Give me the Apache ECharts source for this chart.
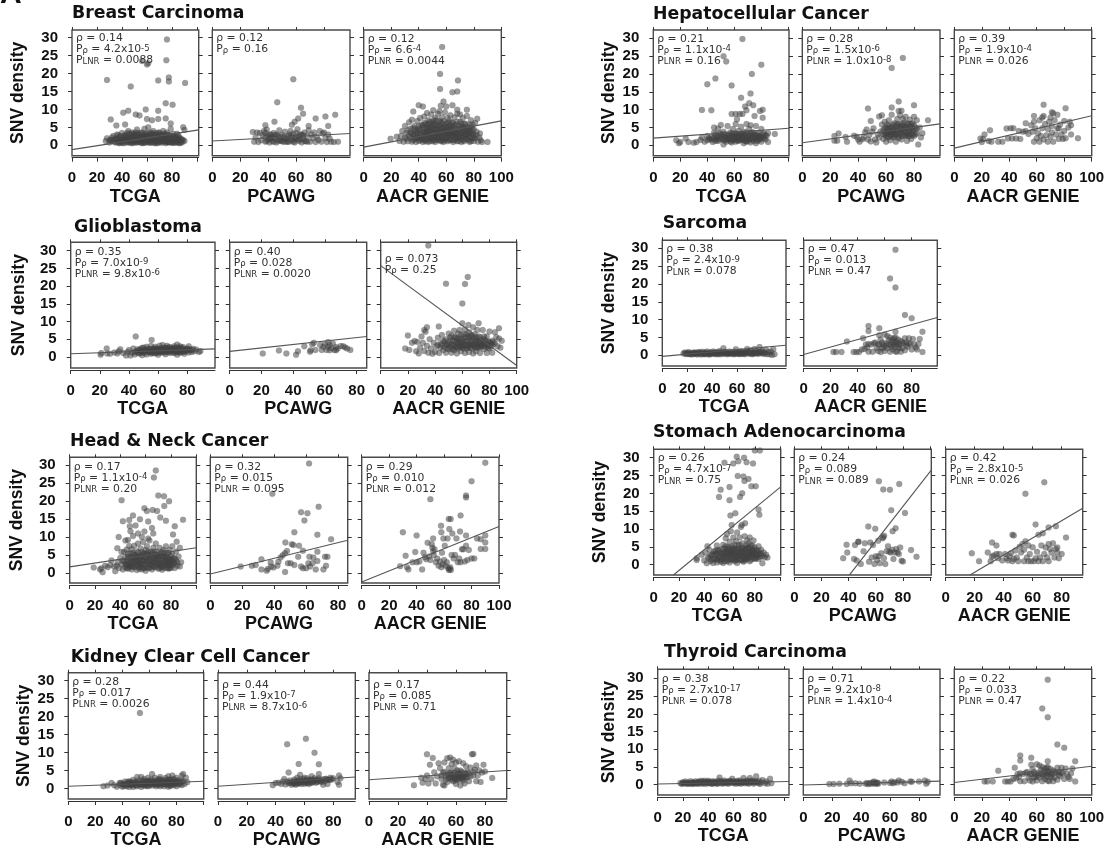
<!DOCTYPE html>
<html><head><meta charset="utf-8">
<style>html,body{margin:0;padding:0;background:#fff}#c{width:1111px;height:850px}</style>
<script src="https://cdn.jsdelivr.net/npm/echarts@6/dist/echarts.min.js"></script>
</head><body><div id="c"></div>
<script>
// Every array: x (age), y (SNV density) pairs
const brcaTcga=[76,29.5,75.5,23.7,61,22.9,56,23.5,60,22.5,28,18.2,47,16.4,69,18.1,77.5,18.9,77.5,17.8,90.5,17.4,75,11.7,80.5,11.3,69,9.6,59,10,41,9.1,45,9.6,51,8.6,54,8.3,31,7.2,35.5,5.5,60,7.3,64,7,69,7.3,75,7.5,79,6.1,42.5,5.8,
27,1.2,28,2,30,.8,31,1.5,33,2.6,34,.9,35,1.8,36,3,37,.7,38,2.2,39,1.2,40,3.4,41,.6,42,1.6,43,2.7,44,.8,45,4,46,1.3,47,2.3,48,.6,49,3.2,50,1.6,51,.8,52,4.4,53,2.4,54,1,55,3.4,56,.6,57,1.8,58,4.6,59,2.8,60,1.1,61,5,62,3.3,63,.7,64,2,65,4,66,1.2,67,2.8,68,.6,69,3.5,70,1.7,71,.9,72,2.6,73,4,74,1.2,75,.6,76,3,77,2,78,.9,79,4.6,80,1.5,81,2.6,82,.7,83,1.8,84,3.2,85,1,86,2.2,87,.8,88,1.6,89,5,90,1.2,90,4.3,
32,1.2,36,1.1,38,.6,40,1.8,42,2.8,44,1.9,46,.7,48,2.2,50,3,52,1.1,54,2.3,56,1.6,58,.8,60,2.4,62,1.4,64,3.2,66,.6,68,2,70,3,72,1.2,74,2.4,76,1,78,2.8,80,.7,82,2.2,84,1.2,86,.6,41,1.4,45,2,49,1,53,1.5,57,2.8,61,.9,65,1.9,69,1.1,73,1.8,77,.8,81,1.2,85,1.8,
30,1.4,32,2.2,34,1.6,35,.8,36,1.9,37,2.8,38,1.4,39,.8,39,2.6,40,1,41,2.2,42,.7,43,1.4,44,2.6,44,3.4,45,1,46,2,46,3.2,47,.9,47,1.6,48,2.8,48,3.6,49,.7,49,2,50,1.2,50,2.4,51,3.6,51,1.7,52,.8,52,2.8,53,1,53,3.3,54,1.7,54,2.9,55,.8,55,2.2,56,1.2,56,3.6,57,.7,57,2.3,58,1.4,58,3.2,59,.7,59,2.2,60,1.7,60,3.4,61,1.2,61,2.8,62,.7,62,2,63,1.3,63,3.6,64,.9,64,2.6,65,1.4,65,3,66,.8,66,2.2,67,1.6,67,3.4,68,1,68,2.8,69,.7,69,2.2,70,1.2,70,3.6,71,2,71,2.8,72,.7,72,1.8,73,1.1,73,3,74,1.8,74,3.2,75,1,75,2.4,76,1.6,76,3.6,77,1,77,2.8,78,1.6,79,.8,79,2.4,80,1.8,81,.8,81,3.2,82,1.4,83,.8,83,2.6,84,1.7,85,.7,85,2.8,86,1.4,87,1.8,88,.8,89,1.4];
const brcaPcawg=[58,18.4,46.5,12,63.5,10.5,65,8.8,44.5,6.6,61.5,7.5,74,7.5,81,8,88,8.5,83,5.4,38,5.6,57,5.7,59,6.6,69,5.4,
29,3.7,30,1,31,2.2,32,3.6,33,.9,34,3.4,35,1.4,36,2.8,37,4,38,1,38,2.4,39,4.4,40,1.6,41,.8,41,3,42,2,43,1.2,44,3.4,45,1.8,46,.8,47,2.6,48,4.2,49,1.2,50,2.9,51,.9,52,3.8,53,1.7,54,2.5,55,1,56,4,57,1.4,58,3.2,59,.8,60,2.2,61,4.5,62,1.2,63,3,64,.8,65,1.9,66,3.6,67,1.1,68,2.6,69,4.2,70,1,71,3,72,2,73,3.6,74,.9,75,2.4,76,1.5,77,4,78,1,79,3.3,80,3.6,81,2,82,.9,83,3,84,1.9,85,1,87,.9,90,1,
40,2.6,44,.9,46,3,48,1.5,50,1.2,52,2,54,1,56,2.6,58,1,60,3.4,62,2.6,64,3,66,1.2,68,1,43,2.2,47,1.3,51,2.2,55,3,59,1.8,63,1.7,39,1.2,41,1.9,42,3,45,2.8,49,2.4,53,1,57,2.2,61,1.6,65,2.8,38,3.4];
const brcaAacr=[57,27.4,55.5,19.9,68.5,18.1,55.5,15.7,68,15,64.5,14.8,58,12.2,40,11.2,43,10.8,36,9.4,64.5,11.2,68,9.9,75,9.9,82.5,7.4,19.5,1.8,24,2.4,90,.9,86,.9,84.5,3.3,56,11,50.5,9.8,60,10.8,46,9,55,9.5,70,8.6,
26,1.2,27,2.6,28,4,29,1,30,5.4,30,2.2,31,3.4,32,1.1,33,6.4,33,2.7,34,4.6,35,1,35,7.1,36,3,37,1.8,37,5.4,38,3.8,38,.9,39,6.8,39,2.2,40,4.6,40,1.2,41,7.6,41,3.2,42,1.9,42,5.6,43,.9,43,3.9,44,8,44,2.5,45,6,45,1.1,46,4.3,46,2.9,47,7,47,.9,48,5,48,1.9,49,3.4,49,8.6,50,6.4,50,1.1,51,2.6,51,4.5,52,7.6,52,.9,53,3.4,53,5.6,54,1.8,54,8.8,55,4.2,55,6.8,56,1.1,56,2.8,57,7.8,57,5,58,3.6,58,.9,59,9.2,59,2,60,6,60,4.2,61,1.1,61,7.6,62,2.9,62,5.2,63,8.4,63,1.6,64,3.8,64,6.4,65,.9,65,4.9,66,2.4,66,7.8,67,3.4,67,5.8,68,1.1,68,8.8,69,4.2,69,2.2,70,6.6,70,3.2,71,.9,71,5,72,7.6,72,2.4,73,4,73,1.1,74,6,74,3,75,8.2,75,1.8,76,4.6,76,2.6,77,5.8,77,.9,78,3.4,78,7,79,2,79,4.6,80,1.2,80,3,81,6.2,81,2,82,3.8,83,1,84,2.2,85,1.4,
35,3.2,37,4.4,39,4,41,2.4,43,5.6,45,3.4,47,4.8,49,1.9,51,6,53,2.2,55,3,57,2,59,4,61,3.2,63,4.6,65,2.8,67,1.8,69,5.4,71,3.4,73,6,75,4,77,3.2,79,5.8,
31,1.8,32,4.2,34,2,34,3.4,36,1.4,36,4.8,37,2.8,38,2,39,3.2,40,2,40,5.4,41,1.4,41,4.4,42,3,43,1.8,43,4.8,44,1.4,44,3.4,44,6.2,45,2.4,45,4.6,46,1.6,46,3.6,46,5.4,47,2.6,47,4,47,6,48,1.2,48,3.2,48,6.6,49,2.4,49,4.4,49,5.6,50,1.8,50,3.6,50,5,51,1.4,51,3.4,51,7,52,2.6,52,4.4,52,5.8,53,1.4,53,4.4,53,7,54,2.8,54,3.8,54,5.2,55,1.4,55,2.2,55,5.6,56,3.6,56,4.8,56,6.4,57,1.3,57,3.8,57,6.2,58,2.4,58,4.8,58,6.8,59,1.4,59,3,59,5.4,60,2,60,3.4,60,5,61,2.2,61,4.4,61,6.2,62,1.4,62,3.8,62,6.8,63,2.6,63,3.4,63,5.6,64,1.4,64,2.8,64,5,65,3.6,65,6.2,66,1.4,66,3.4,66,5.4,67,2.6,67,4.6,68,2,68,3.6,68,6.6,69,1.2,69,3.2,70,2,70,4.6,71,2.4,71,6,72,1.4,72,3.6,72,5,73,2.8,73,4.8,74,1.8,74,4.4,75,3,75,5.2,76,1.4,76,3.6,77,2.2,77,4.2,78,1.2,78,5,79,3.2,80,2.2,80,4.4,82,2.8];
const gbmTcga=[44.6,5.8,55.5,4.8,24.7,2.4,20.5,.6,21,1.1,25,1,27,.9,30,1.3,32,1,33,1.6,34,2.2,36,1.1,38,.4,39,1.4,40,2,41,.4,42,1.2,43,2.4,44,.7,45,1.6,46,2.2,47,1,48,1.7,49,.5,49,2.6,50,1.3,51,2,52,.7,52,2.9,53,1.5,54,2.2,55,.9,55,3.1,56,1.7,57,2.4,58,1,58,2.9,59,1.6,60,.6,60,2.2,61,3.2,62,1.3,62,2.4,63,3.4,64,1.8,65,.8,65,2.6,66,1.5,66,3.2,67,2.1,68,1.1,68,2.8,69,1.7,70,2.5,71,1.1,71,3,72,2,73,.6,73,3.5,74,1.5,74,2.6,75,1.1,75,3,76,2,77,1.4,77,2.8,78,.9,78,2.2,79,1.6,80,2.4,81,1.3,81,3,82,2,83,1.4,84,2.3,85,1.6,86,2.1,88,1.4,89,1.7,48,1.2,50,2.6,54,1.4,56,1.1,60,1.5,64,2.6,68,2,72,1.4,76,1.5,
44,1.4,46,1.2,47,2,48,2.2,49,1.4,50,1.8,51,1.2,52,1.9,53,2.3,54,1.8,55,1.4,56,2.3,57,1.3,57,1.9,58,2.2,59,1.2,59,2.4,60,1.9,61,1.3,61,2.3,62,1.8,63,1.4,63,2.2,64,1.3,65,2.1,65,1.6,66,2.3,67,1.4,67,2.7,68,1.6,69,2.4,70,1.3,70,2,71,2.4,72,1.7,72,2.6,73,1.4,73,2.2,74,2,75,1.6,75,2.4,76,2.6,77,1.9,78,1.6,79,2.2,80,1.8,81,2.2,83,2];
const gbmPcawg=[20.8,1,31,1.8,35.7,1,41.8,.6,43,1.6,47,3,50.6,1.5,52,3.6,53,4,62,4.2,70,3.1,72.7,2.7,76,2,74,2.4,71.5,3,51,1.9,54,2,57,3.4,58,2,59,2.9,60,3.6,61,2,62,2.8,63,1.9,63,3.4,64,2.5,65,3.8,66,2,67,2.8,67,1.9,68,2.4];
const gbmAacr=[35,31.5,48,20.7,64,22.6,62,20.6,60,15.1,20,6.1,42.7,8.6,34,8.4,32,7.6,72,9.5,64.5,9,60,9.5,87,8.1,18,2.4,21,2,23,4,25,4.5,26,1.6,27,4.2,28,1,29,2.6,30,5.8,31,4,32,1.7,33,7.1,34,3.2,35,1.2,36,5,37,2.4,38,.9,39,4,40,1.4,41,3,42,5.4,43,1.1,44,3.8,45,6.2,46,2,47,4.4,48,1.2,49,3.4,50,6.6,50,2.2,51,4.6,52,1.2,52,6,53,3.2,54,7.4,54,1.9,55,4.4,55,5.6,56,1,56,2.8,57,6.6,57,4,58,3.2,58,7.6,59,1.6,59,5.2,60,4,60,2.6,61,6.4,61,3.2,62,1.1,62,7.8,63,4.6,63,2.4,64,5.8,64,3.2,65,1.4,65,7,66,4.2,66,2.6,67,6,67,3.4,68,1,68,8.4,69,4.6,69,2.8,70,5.6,70,1.6,71,3.6,71,7.6,72,4.4,72,2.6,73,1.1,73,5.6,74,3.4,75,7.6,75,4.2,76,2.2,76,5,77,3.6,78,1.1,78,5.8,79,3.2,79,4.4,80,2.4,80,7.2,81,3.8,82,1.2,82,4.6,84,7,84,3.8,85,5.6,86,3,87,5.2,88,2.6,89,4.6,
42,3.4,44,2.6,45,3.4,46,4.6,47,2.8,48,3.6,48,5,49,2.4,50,3.8,51,2.8,51,5.4,52,3.6,53,4.6,53,2.2,54,3.4,54,5.6,55,2.6,56,3.8,56,5,57,2.4,57,5.2,58,4.4,58,2.8,59,3.6,59,6.2,60,5,60,3.2,61,2.4,61,4.4,62,3.6,62,5.6,63,3.2,63,6.4,64,2.6,64,4.4,65,3.6,65,5.4,66,3.4,66,6,67,2.4,67,4.6,68,3.6,68,5.4,69,3.4,69,6.4,70,2.6,70,4.4,71,5,71,2.8,72,3.4,72,5.8,73,4,73,2.8,74,4.8,74,3,75,3.2,76,3.8,76,5.8,77,2.8,77,4.6,78,3.6,79,2.6,80,4.2,81,3,82,3.4,83,4.2];
const hnTcga=[68,28.5,66.5,26.5,41,20.2,70,21.5,74.5,21.3,78.5,19.9,74.7,18.6,59,18,61,17.2,65.5,17.5,69,17.2,50,16,42,14.4,47,14.7,55.5,14.9,62,14.3,71.5,15.4,76,14.5,89.5,14.8,83,13,38.7,10,37.6,6.9,81.6,10.7,84.5,8.7,47.5,13,52,13.2,65,12.5,59,11.5,48,11.6,50,10.3,54,11,57,10,62,9.6,66,11,46,9.2,44,9,41,5.8,
19,1.5,24,1,25,1.3,26,.2,28,2,30,1.6,32,2.2,33,3.5,35,1.8,36,.5,37,2,38,3,39,1.4,40,4.2,41,2.4,42,1,43,5.8,43,3.2,44,1.6,45,6.5,45,2.6,46,4.6,46,1.2,47,7.5,47,3.2,48,2,48,5.4,49,1,49,6.6,50,3.6,50,1.8,51,5,51,7.6,52,2.6,52,4,53,.8,53,6,54,3,54,8.2,55,1.6,55,4.6,56,6.8,56,2.6,57,3.6,57,1,58,5.4,58,8.6,59,2.2,59,4.4,60,.6,60,6.4,61,3.2,61,7.4,62,1.4,62,5,63,3.6,63,9,64,2.4,64,6,65,4.4,65,1,66,7,66,3,67,5.2,67,1.8,68,8.2,68,3.8,69,2.4,69,6,70,1.2,70,4.6,71,7,71,3,72,1.8,72,5.4,73,3.8,73,.9,74,6.4,74,2.6,75,4.6,75,1.4,76,7.4,76,3.4,77,2.2,77,5.4,78,1.2,78,4,79,6.4,79,2.8,80,3.6,80,1.4,81,5.2,81,7.4,82,2.6,83,4,83,1.4,84,6,85,3,85,2,86,4.6,87,7,87,1.8,88,3,47,2.2,51,3.2,53,4.6,55,2.8,57,5,59,3.4,61,5.4,63,2.2,65,3,67,3.6,69,4.6,71,2.2,73,4.8,75,3,77,4,79,2,81,3.4,
42,3.4,44,2.4,44,4.4,45,1.4,45,3.6,46,2.2,46,5.4,47,1.6,47,4.2,48,2.8,48,3.8,49,1.8,49,4.6,50,2.6,50,5.6,51,1.6,51,4,52,3.2,52,5,53,1.8,53,3.6,54,2.2,54,4.4,54,5.6,55,3.4,55,1.2,56,4.4,56,1.8,57,2.6,57,5.8,58,1.4,58,3.4,59,1.4,59,5.4,60,2.6,60,4.2,61,1.6,61,4.4,62,3,62,6,63,1.4,63,4.6,64,3.4,64,5,65,2,65,5.6,66,1.6,66,4.2,67,2.8,67,6,68,1.6,68,4.8,69,3.2,69,5,70,2.4,70,3.6,71,1.4,71,5.2,72,3.6,72,2.6,73,1.6,73,5.8,74,3.6,74,4.6,75,2,75,5.6,76,2.4,76,4.6,77,1.4,77,3.2,78,2.8,78,5.6,79,3.8,79,1.4,80,2.6,80,4.8,81,2.2,82,4,83,2.8,84,3.6];
const hnPcawg=[61.8,30.4,38.8,22,67.8,18.4,56.8,16.9,60.8,16.6,58.9,14.6,52.6,11.3,67,10.6,75.6,9.4,47,8.5,51,8,52,7.8,55.5,7.6,58,6.2,67,5.9,48,6.1,46.7,5.5,19,1.8,26,2,28.4,2.2,32,3.8,32,1,35.3,.6,36,1.1,38,1.8,37.8,2.9,39.5,1.5,42,2,42.6,3.1,44,4.3,45.3,4.9,46.8,.3,48.6,2.7,50.3,2.7,52.6,2.2,55,4.5,56.8,1.8,58,1.3,60,1.3,62.4,1.8,62,4.5,64.5,4.3,61.4,2.7,66,1,67,3.3,70.8,1,71.8,4.5,73.3,4.5,72.4,2,64,2.7];
const hnAacr=[90,30.6,80,25.5,76,21.5,76,21,50,20.5,72,16,63.4,15,64.8,15,57.8,13.1,30,11.3,40,10.4,90,10.4,90,8.5,90,6.7,86.7,6.7,86.7,9.4,76,10.4,76,7.6,71.6,11.5,63.8,12.2,58,11.3,59.5,9.6,52,9.6,28,1.9,32,4.8,33,1.6,34,1,37,3,39,5.8,40,3,42,3.2,44,1,45,5.6,46,4.4,47,3.8,48,8.4,49,4.6,50,3.6,51,8,51.5,7,52,6,52.5,5,53,6.6,54,3,55,4,56,2,57,3.2,58,1.6,58.5,5.6,59,2.4,60,3.6,60.5,7.6,61,2,62,3,62.5,9.6,63,1.4,63.5,.8,64,1.1,64.5,1.6,65,.8,65.5,5,66,11,67,4,68,5,69,9.6,70,3,71,4,72,3,73,6.6,74,6.6,75,3.2,77,3.6,78,6.4,80,4,82,4,84,9.6];
const kiTcga=[53,21,26,.6,29,.8,32,1.5,34,.9,36,.5,38,1,39,1.6,40,.5,41,1.1,42,1.9,43,.6,44,1.3,45,.4,45,2,46,1,47,1.6,48,.4,48,2.4,49,1,50,1.8,51,3.2,51,.6,52,2.2,53,1.1,54,3.2,54,.4,55,1.7,56,2.6,57,.7,57,1.3,58,2,59,3,59,.6,60,1.3,61,2.5,62,.8,62,4,63,1.7,64,3,65,.6,65,1.9,66,1.1,67,2.6,68,.6,68,3.2,69,1.6,70,2.3,71,.6,71,1.2,72,2.9,73,1.7,74,.5,74,3.4,75,1.4,75,2.4,76,.7,77,3.6,77,1.8,78,1,78,2.6,79,1.6,80,.6,80,3,81,1.7,82,1.1,83,2.3,84,3.6,84,.9,85,4,85,2,86,1.2,87,3,88,1.7,46,1.8,50,.9,55,.9,60,2,64,1,70,1.2,75,.8,79,2.2,
38,1.5,40,1.2,41,.7,42,1.3,43,1.1,44,1.8,45,1,46,1.4,47,.9,48,1.2,49,1.7,50,1.3,51,1.6,52,1,53,1.6,54,1.2,55,2.2,56,1,56,1.6,57,2,58,.9,58,1.4,59,1.9,60,.8,61,1.4,61,2,62,1.2,63,2.2,64,1.6,65,1.2,66,2.2,66,1.6,67,1,67,1.8,68,1.4,68,2.4,69,1,70,1.7,71,2,72,1.2,72,2.2,73,1.1,74,1.8,74,2.4,75,1.1,76,1.6,76,2.4,77,1.2,78,1.8,79,1.1,80,1.5,81,2.2,82,1.6,83,1.3,84,1.9];
const kiPcawg=[61,13.8,48,12.3,67,9.9,56,6.8,70,6.7,49,4.4,70,4,46,2.6,38,.9,40,1.5,42,1.6,44,1.2,45,1.9,47,1.1,48,1.9,49,1.5,50,2.2,51,1,52,1.8,53,2.5,53,1.3,54,1,55,2,55,3,56,1.4,57,2.5,57,3.8,58,1.2,59,2,60,3,60,1.3,61,2.2,62,1.6,62,2.8,63,1.2,64,2.4,65,3.4,65,1.6,66,2.2,67,2.8,68,1.6,69,2.3,70,2.8,71,2,72,2.5,73,1,74,2,75,2.7,76,1.2,77,2.4,78,3,79,2.5,80,2.8,84,3.6,83,1.8,84,1,85,2.8,
50,1.6,52,1.4,53,2,54,1.6,55,1.4,56,2.1,57,1.6,58,1.8,59,2.6,60,1.8,61,1.5,62,2.2,63,2,64,1.6,65,2.4,66,1.7,67,2,68,2.4,69,1.8,70,2.2,72,1.8,74,2.6,76,2.4,78,2.4];
const kiAacr=[31,.9,36,3,37,1.6,39,2.6,40,9.5,40,3.6,41,1.4,42,6.6,43,2.6,44,8.5,45,4.5,46,1.4,47,3.4,48,7,49,5.6,50,2.6,51,1,51,4.4,52,7.2,52,.8,53,3.4,54,8.4,54,1.8,55,5.6,56,3,56,8.6,57,4.2,57,6.8,58,2,58,8,59,3.4,59,5.6,60,1.2,60,7.2,61,4,61,2.6,62,7.6,62,3.4,63,5,63,.8,64,3.4,65,7,65,2.2,66,4.4,66,1.4,67,6.2,67,3,68,4.6,69,2,70,5.8,71,9.5,72,3.6,72,9.6,73,5.2,74,2,74,6.4,75,3.6,76,5,77,1.8,78,4.4,79,6.6,80,4.7,85,2.9,55,4,57,3.2,59,2.6,61,3.2,63,4,65,3.6,
50,3.6,52,4.6,53,2.4,54,3.8,55,2.8,56,4.4,57,2.4,58,3.8,59,4.4,60,3,60,2.2,61,5,62,2.4,62,4.2,63,3,64,2.6,64,4.6,65,3,66,3.4,67,4,68,3.2,69,4.2,70,3.4,72,4.6];
const hccTcga=[66,29.8,52,25,54,23.5,80,22.6,73,20,46,18.7,40,17.1,58,16.8,72,14.5,65,13.3,71,11.8,74,11.2,68,10.9,36,9.9,43,9.8,79,9.6,81,10,69,9.8,75,8.2,81,7.7,58,8.8,61,8.8,64,8.8,66,8.8,62,7.3,17,1.4,19,.6,20,.9,24,1.9,26,.9,30,.7,32,.9,35,1.5,36,2.2,38,1,40,2.6,42,1.6,44,.9,45,3.5,45,5,47,2.2,48,4.7,48,1.2,50,3,50,5.7,51,1.7,52,.2,52,3.8,53,2.4,54,1,55,5.4,55,2.8,56,1.6,57,3.6,58,.8,58,2.4,59,4.6,60,1.6,60,3,61,1,61,6,62,2.4,63,4,63,1.2,64,3,65,5.2,65,1.6,66,2.4,67,.6,67,3.8,68,2,69,6,69,1,70,2.9,71,4.6,71,1.7,72,.8,72,5.6,73,2.6,74,3.6,74,1.2,75,2,76,5.4,76,.6,77,3,78,1.6,79,2.6,80,4.6,80,1,81,2.2,82,3.4,83,1.6,84,2.6,85,.9,85,3.4,90,3.2,57,1.7,59,3.2,61,2.2,63,2.6,66,1.6,68,3.2,70,1.7,73,1.6,77,2,
40,1.4,41,2,43,2.2,44,1.6,45,2.2,46,1.2,46,3,47,1.6,48,2.6,49,1.6,49,3.4,50,2.2,51,3,52,1.6,53,1.4,53,3.2,54,2.2,55,1.6,56,3,56,2.2,57,1.1,58,3.2,59,1.4,60,2.2,61,3.4,62,1.4,62,3.2,63,2,64,1.4,64,2.2,65,3,66,3.4,67,1.6,67,2.6,68,1.2,69,2.2,69,3.6,70,1.2,71,2.6,72,2,72,3.4,73,3.6,74,2.2,75,3,76,1.6,76,2.6,77,1.2,78,2.4,78,3.4,79,1.6,80,2.2,81,3,82,2,83,2.8];
const hccPcawg=[72,24.5,64,21.7,69,12.3,47,10.3,64,10.6,69,9.6,71,9.7,80,11.2,23,2.6,23,1.3,25,1.3,26,3.3,31,2.3,32,1,37,2.7,39,2.4,40,1.6,41,1,43,1.7,44,2.2,45,3.6,46,4.4,47,1.6,48,2.9,49,6.8,49,1.1,50,3.8,51,4.8,52,1.6,53,.8,54,3,55,8.1,55,2.2,56,3.9,57,8.4,57,5.8,58,1.8,58,3.2,59,4.8,59,6.6,60,1,60,3.4,61,5.8,61,2.2,62,4,62,7,63,3,63,1.4,64,5.2,64,8.6,65,3.8,65,2.2,66,6.2,66,4.4,67,1,67,3,68,7.4,68,4.8,69,5.8,69,2.4,70,3.6,70,8.4,71,6,71,1.6,72,4.4,72,7.4,73,2.8,73,5.2,74,8,74,3.6,75,1.2,75,6.2,76,4.4,76,2.6,77,7.2,77,5.4,78,3.2,78,1.8,79,6.2,79,4,80,8,80,2.6,81,5,82,3.4,82,7,83,.2,84,5,85,2.2,86,3.4,90,7,
58,4.2,59,3,60,2.6,60,5,61,3.6,61,4.6,62,2.4,62,5.4,63,3.8,63,4.8,64,2.8,64,3.6,65,4.6,65,5.8,66,3,66,2.4,67,4,67,5.4,68,3.2,68,6,69,2,69,4.2,70,3,70,5.2,71,3.6,71,4.6,72,2.6,72,5.6,73,3.8,73,6.4,74,2.6,74,4.8,75,3,75,5,76,3.4,76,6,77,2.6,77,4.2,78,4.8,78,6,79,3,80,4.4,80,5.6,81,3,82,4.6];
const hccAacr=[65,11.4,81,10.4,71,9.3,72,9,58,8.2,64,7.8,65,8.2,70,7.8,75,8.6,84,6.6,85,5.6,19,1.9,20,.9,21,1.8,22,3,25,1.2,26,4.2,27,1,32,1,35,1,38,4.7,39,1.9,41,4.8,42,1.9,43,4.8,45,1.9,47,4,48,1.8,50,3.8,52,6.2,52,4,54,3.2,56,5.6,57,3.8,58,1,58,6.6,59,4.8,60,2,61,3.4,62,1,62,7,63,2.6,64,4.8,65,1.6,66,6,67,2.8,68,1,68,4.6,69,6.6,70,2.4,71,5.4,71,3.6,72,1,73,7,74,3,75,4.8,76,1.8,76,4.7,77,5.8,78,3,79,1.8,80,6.8,80,4,81,2,83,5,85,3,90,2];
const sarcTcga=[17,.5,18,.8,19,.3,20,.6,21,.9,22,.3,23,.6,24,.2,25,.8,26,.4,27,.7,28,.2,29,.9,30,.5,31,.2,32,1,33,.5,34,.8,35,.3,36,1.1,37,.6,38,.2,39,.9,40,.4,41,1.1,42,.7,43,.3,44,.9,45,.5,46,1.2,47,.3,48,.8,49,2,50,.5,51,1,52,.3,53,.7,54,1.1,55,.4,56,.8,57,.3,58,1,59,1.7,60,.5,61,.9,62,.3,63,1.2,64,.6,65,.9,66,.3,67,1,68,1.8,69,.5,70,.9,71,1.4,72,.3,73,.8,74,1.8,75,1.2,76,.5,77,1,78,2.3,79,.6,80,1.2,81,.4,82,.8,83,1.6,84,.3,85,.9,86,.3,87,1.1,88,.1,89,1.7,90,.3,22,.5,26,.7,30,.8,34,.4,38,.6,42,.4,46,.7,50,.9,54,.6,58,.4,62,.8,66,.7,70,.5,74,.6,78,.8,82,.5,
19,.6,21,.4,23,.4,25,.5,27,.4,29,.5,31,.6,33,.3,35,.7,37,.3,39,.5,41,.6,43,.7,45,.3,47,.7,49,.4,51,.6,53,.4,55,.7,57,.6,59,.4,61,.5,63,.4,65,.4,67,.6,69,.9,71,.6,73,.4,75,.6,77,.4,79,1];
const thyPcawg=[18,.2,21,.2,25,.3,30,.2,32,1.2,33,.4,36,.4,39,.3,43,.3,44,.5,45,.1,46,.5,47,.3,48,.7,49,.3,49,.9,50,.5,51,.2,52,.4,56,.6,60,.5,61,.9,62,.4,63,.7,65,.6,66,1.2,68,.8,70,.4,74,.9,75,.8,80,.9,84,1.2,85,.3,86,.8,51,.6];
const thyTcga=[18,.5,19,.2,20,.7,21,.4,22,.9,23,.2,24,.6,25,.3,26,1,27,.2,28,.6,29,.3,30,1,31,.5,32,.2,33,.7,34,1.1,35,.3,36,.6,37,1.1,38,.2,39,.7,40,1.1,41,.4,42,.8,43,.2,44,1,45,.5,46,.8,47,.2,48,.6,49,2,50,1,51,.3,52,.7,53,1.2,54,.4,55,.8,56,.3,57,1.1,58,.6,59,1.7,60,.4,61,.8,62,.3,63,1.1,64,.6,65,1.2,66,.3,67,.7,68,1.9,69,.4,70,.9,71,1.2,72,.3,73,1.9,74,.7,75,1.2,76,.3,77,.9,78,2.4,79,.6,80,1.1,81,.2,82,.7,83,1.3,85,.4,86,.9,87,.3,89,1.7,90,.4,28,.4,32,.8,36,.9,40,.5,44,.4,48,1.1,52,.4,56,.8,60,.9,64,.4,68,.6,72,.8,76,.8,80,.5,
20,.4,22,.5,24,.4,26,.5,28,.6,30,.4,32,.5,34,.6,36,.4,38,.6,40,.8,42,.4,44,.7,46,.5,48,.4,50,.6,52,.8,54,.7,56,.5,58,.9,60,.6,62,.7,64,.8,66,.6,68,.9,70,.6,72,.5,74,1,76,.6,78,.8];
const sharedAacr=[68,29.6,64,21.5,68,19,75,11.3,80,10.4,48,8.2,48,6.8,56,7.6,68,6.6,88,6.6,22,.9,24,.9,28,.9,32,3.9,37,.9,39,.9,41,.9,43,1.6,44,4.8,45,1.8,46,3,47,2.2,48,3.2,48,1,50,3,51,1,52,3.4,53,3.6,54,2,55,1.2,56,5.6,56,3,57,.9,57,4.4,58,2,59,3,60,5.8,60,1.2,61,3.4,62,2,62,5.4,63,3,64,1,64,5,65,2.4,65,3.8,66,1.6,67,4.8,67,3.2,68,1.1,68,5,69,3.6,69,1,70,2.4,70,4.4,71,3,72,1,72,4,73,2,74,3.4,75,4.8,75,1.4,76,3.6,77,2.4,78,4.8,79,3.2,80,1.6,81,4.6,82,3,83,2.2,84,1.6,85,3.2,86,4.6,88,.9,66,4.4,68,3.8,58,3.6,55,3,59,2.2,61,2.6,63,4.2,65,3,67,2.4,69,3,71,2,73,3.6,76,2.8,78,3.4];
const stadTcga=[80,32,84,32,56,28.6,63,28.4,65.7,30.3,71.5,30,67,29,73.5,28.7,78.6,28.4,66.5,24.9,71,24.7,71.8,23.5,75,24,77.3,22,80.7,22,60,21.8,53,21,51.7,19,68.3,19,70,20,60,18.1,83,15.5,83.6,14,60.7,13.8,64.6,14.4,61.7,11.1,69.7,11.1,72.3,11.6,86,.4,34,1.3,42.5,5.2,34,1.8,38,2.8,40,1.2,41,3.4,42,.4,43,2,44,4.2,45,1,46,2.8,47,.5,48,3.8,49,1.6,50,5.4,50,.6,51,2.6,52,4,53,1.2,54,3,55,.5,55,5.6,56,2,57,7.4,57,3.6,58,1,58,8.6,59,5,59,2.6,60,.6,60,6.4,61,3.6,61,9.4,62,1.6,62,5.2,63,3,63,7.6,64,1,64,4.4,65,6.6,65,2.2,66,.5,66,9,67,3.6,67,5.4,68,1.4,68,7.6,69,4,69,10.6,70,2.4,70,6,71,.8,71,4.4,72,8,72,3,73,1.6,73,5.4,74,6.8,74,3.4,75,2,75,4.6,76,7.6,76,1,77,3.6,77,5.4,78,2.2,78,4.2,79,3,79,6.8,80,1.6,80,4.8,81,2.8,82,3.8,83,5.2,83,1.6,84,3,85,4.2,86,2.4,87,3.4,88,2,89,2.8,90,2,56,3,58,4.4,60,3.2,62,3.6,64,2.6,66,2.6,68,3.2,70,3.8,72,2,74,2.4,76,3.6,78,3,82,2.2,
44,1.8,45,2.6,46,1.4,47,3,48,1.6,49,2.8,49,4,50,1.4,50,3.2,51,1.6,51,4.2,52,2.2,53,3.2,53,.8,54,1.6,54,4.4,55,2.4,55,3.4,56,1,56,4.6,57,1.8,57,5.2,58,2.8,58,3.4,59,1.4,59,4,60,2.2,60,4.6,61,1.4,61,2.8,62,3,62,4.2,63,1.4,63,4.6,64,3.4,64,5.6,65,1.4,65,3.8,66,4.2,66,1.4,67,2.4,67,4.6,68,2.4,68,5.6,69,1.4,69,3,70,1.2,70,4.6,71,2.2,71,3.4,72,1.2,72,4.6,73,2.8,73,4.2,74,1.6,74,4.8,75,3.2,75,6,76,2.4,76,4.6,77,1.4,77,2.8,78,3.6,78,5.4,79,1.8,79,4,80,3,81,4.2,81,1.8,82,3,83,3.8,84,2.2,85,3];
const stadPcawg=[62.3,23.4,65.5,21.1,70.4,21,77.3,22.6,71.4,15.3,81.5,14.5,54.5,10.7,59.6,10.1,74.6,10.2,72.4,9.4,66.2,8.1,65.5,7.7,61.8,6.7,47.4,6.4,44.7,5.5,38.5,5.6,36,1.8,39,3.4,44,1.6,46,1.2,47,6.4,49,.2,51,3.8,52,6,55,.8,56,6.2,57,2,58,5.5,59,.2,60,2.4,61,1.4,62,2.4,63,.4,64,3.2,65,7.4,66,1.8,67,.2,68,3.8,69,5.2,70,3.6,71,3.4,72,4.2,73,1.6,74,3.4,75,4.4,76,3.4,77,3,78,4.8,79,1.1,80,.9,86,4.1,90,2.2];
const stadAacr=[68,23.1,55,19.9,62,11.3,71,10.4,76,10.8,83,7.6,46,8.4,47,8.2,32,6.2,35,5.4,18,3.2,23,1,29,3.4,31,1,32,2.2,33,2.6,35,3,36,1.8,37,3,39,1.2,41,3,42,1.8,43,1.2,44,2.4,45,3.2,46,1,47,1.6,48,4,49,2,50,1,51,5,52,3.4,53,5.8,54,1,54,4.2,55,6.6,56,2,57,1,57,5.4,58,3,59,1,60,4.9,61,1,62,1.8,63,3.6,64,8.4,64,1,65,2,66,5.4,67,8.8,67,1,68,3,69,4.8,70,2,71,5.8,71,1,72,4.4,73,3.4,74,6,75,2,76,4.4,77,3.4,77,4.8,78,1.8,80,3];
const xTicks=[0,20,40,60,80,100];
const yTicks=[0,5,10,15,20,25,30];
const rows=[
 {title:'Breast Carcinoma',tx:72,ty:5,y30:37.7,y0:145.3,top:30,bot:155.7,nx:18,panels:[
  ['TCGA',brcaTcga,[0,-1.2,101.4,4.3],['0.14','4.2x10^-5','0.0088'],72,198.7,101.4,false,8.3],
  ['PCAWG',brcaPcawg,[0,1.2,98.6,3.3],['0.12','0.16'],212.3,350,98.6,false,8.3],
  ['AACR GENIE',brcaAacr,[0,-.5,100,6.8],['0.12','6.6^-4','0.0044'],363.7,501.3,100,true,9]]},
 {title:'Glioblastoma',tx:74,ty:219,y30:250.7,y0:357,top:242.3,bot:368,nx:19,panels:[
  ['TCGA',gbmTcga,[0,.9,99,2.3],['0.35','7.0x10^-9','9.8x10^-6'],70.7,215,99,false,9.5],
  ['PCAWG',gbmPcawg,[0,1.6,86.3,5.8],['0.40','0.028','0.0020'],229.7,366.7,86.3,false,9.5],
  ['AACR GENIE',gbmAacr,[0,25.8,100,-2.4],['0.073','0.25'],380.7,516.7,100,true,16.5]]},
 {title:'Head & Neck Cancer',tx:70,ty:433,y30:465,y0:573,top:457.3,bot:583,nx:17,panels:[
  ['TCGA',hnTcga,[0,1.7,100,7],['0.17','1.1x10^-4','0.20'],69.7,196.3,100,false,9.5],
  ['PCAWG',hnPcawg,[0,-.3,86,9.1],['0.32','0.015','0.095'],210.3,347.7,86,false,9.5],
  ['AACR GENIE',hnAacr,[0,-2.5,100,12.9],['0.29','0.010','0.012'],361.7,499,100,true,9.5]]},
 {title:'Kidney Clear Cell Cancer',tx:70.7,ty:649,y30:680.7,y0:788.7,top:672.7,bot:799.3,nx:24,panels:[
  ['TCGA',kiTcga,[0,.6,100.2,2],['0.28','0.017','0.0026'],68.3,203.7,100.2,false,9.5],
  ['PCAWG',kiPcawg,[0,.6,95.3,3.2],['0.44','1.9x10^-7','8.7x10^-6'],218,355.3,95.3,false,12],
  ['AACR GENIE',kiAacr,[0,2.4,95,5],['0.17','0.085','0.71'],369,506.7,95,false,12.5]]},
 {title:'Hepatocellular Cancer',tx:653,ty:6,y30:38.3,y0:145.3,top:30,bot:155.7,nx:609,panels:[
  ['TCGA',hccTcga,[0,2,100.5,4.8],['0.21','1.1x10^-4','0.16'],653.3,789,100.5,false,9],
  ['PCAWG',hccPcawg,[0,.7,98.6,6],['0.28','1.5x10^-6','1.0x10^-8'],802.3,940,98.6,false,9],
  ['AACR GENIE',hccAacr,[0,-.8,100,8.3],['0.39','1.9x10^-4','0.026'],954.3,1091.7,100,true,9]]},
 {title:'Sarcoma',tx:662.7,ty:215,y30:248.3,y0:355.3,top:240.3,bot:366,nx:609,panels:[
  ['TCGA',sarcTcga,[0,-.3,99.2,2.8],['0.38','2.4x10^-9','0.078'],662.3,786,99.2,false,9],
  ['AACR GENIE',sharedAacr,[0,.2,99,10.6],['0.47','0.013','0.47'],803.7,937.3,99,false,9]]},
 {title:'Stomach Adenocarcinoma',tx:653,ty:424,y30:457.7,y0:564.7,top:449.3,bot:575,nx:600,panels:[
  ['TCGA',stadTcga,[15.6,-2.9,100.5,21.8],['0.26','4.7x10^-7','0.75'],653.7,780.7,100.5,false,9],
  ['PCAWG',stadPcawg,[40.5,-2.9,100.9,26.5],['0.24','0.089','0.089'],794.3,931.3,100.9,false,9],
  ['AACR GENIE',stadAacr,[16.8,-2.9,94.5,15.8],['0.42','2.8x10^-5','0.026'],945.7,1082.7,94.5,false,9]]},
 {title:'Thyroid Carcinoma',tx:664,ty:644,y30:678.3,y0:784.7,top:669.3,bot:795,nx:609,panels:[
  ['TCGA',thyTcga,[0,.2,104,.9],['0.38','2.7x10^-17','0.078'],657.7,789,104,false,9.5],
  ['PCAWG',thyPcawg,[0,-.1,94.5,1],['0.71','9.2x10^-8','1.4x10^-4'],803.3,940,94.5,false,9.5],
  ['AACR GENIE',sharedAacr,[0,.6,100,5.2],['0.22','0.033','0.47'],954.3,1091.7,100,true,9.5]]}
];
const INK='#333', FRAME='#4a4a4a';
const grid=[],xAxis=[],yAxis=[],series=[],titles=[];
const annFont='"DejaVu Sans"';
const rich={a:{fontFamily:annFont,fontSize:10.8,color:'#333',lineHeight:11},
 s:{fontFamily:annFont,fontSize:8.5,color:'#333',lineHeight:11,verticalAlign:'bottom'},
 u:{fontFamily:annFont,fontSize:8.5,color:'#333',lineHeight:11,verticalAlign:'top'}};
function fmtVal(v){const m=v.split('^');return '{a|'+m[0]+'}'+(m[1]?'{u|'+m[1]+'}':'');}
function pairs(f){const o=[];for(let i=0;i<f.length;i+=2)o.push([f[i],f[i+1]]);return o;}
rows.forEach(r=>{
 titles.push({text:r.title,left:r.tx,top:r.ty,padding:0,textStyle:{fontFamily:annFont,fontWeight:'bold',fontSize:17.3,color:'#111'}});
 const k=(r.y0-r.y30)/30, yMax=30+(r.y30-r.top)/k, yMin=-(r.bot-r.y0)/k;
 r.panels.forEach((p,i)=>{
  const [cat,pts,ln,ann,x0,x1,xMax,lab100,dy]=p, gi=grid.length;
  grid.push({left:x0,top:r.top,width:x1-x0,height:r.bot-r.top,show:true,borderColor:FRAME,borderWidth:1.4,backgroundColor:'transparent'});
  const tv=xTicks.filter(t=>t<=xMax+.01);
  const lv=xTicks.filter(t=>t<100||lab100);
  xAxis.push({gridIndex:gi,type:'value',min:0,max:xMax,position:'bottom',offset:2,name:cat,nameLocation:'middle',nameGap:30,
   nameTextStyle:{fontFamily:'"Liberation Sans"',fontWeight:'bold',fontSize:18,color:'#111'},
   axisLine:{show:true,onZero:false,lineStyle:{color:INK,width:1}},splitLine:{show:false},
   axisTick:{show:true,length:4,customValues:tv,lineStyle:{color:INK}},
   axisLabel:{show:true,customValues:lv,margin:13,fontFamily:'"Liberation Sans"',fontWeight:'bold',fontSize:15,color:'#111',hideOverlap:false}});
  xAxis.push({gridIndex:gi,type:'value',min:0,max:xMax,position:'top',
   axisLine:{show:false,onZero:false},splitLine:{show:false},axisTick:{show:true,length:3,customValues:tv,lineStyle:{color:INK}},axisLabel:{show:false}});
  yAxis.push(Object.assign({gridIndex:gi,type:'value',min:yMin,max:yMax,position:'left',
   axisLine:{show:false,onZero:false},splitLine:{show:false},axisTick:{show:true,length:4,customValues:yTicks,lineStyle:{color:INK}},
   axisLabel:{show:i===0,customValues:yTicks,margin:14,fontFamily:'"Liberation Sans"',fontWeight:'bold',fontSize:15,color:'#111'}},
   i===0?{name:'SNV density',nameLocation:'middle',nameGap:x0-r.nx-9,nameRotate:90,nameTextStyle:{fontFamily:'"Liberation Sans"',fontWeight:'bold',fontSize:17.5,color:'#111'}}:{}));
  yAxis.push({gridIndex:gi,type:'value',min:yMin,max:yMax,position:'right',
   axisLine:{show:false,onZero:false},splitLine:{show:false},axisTick:{show:true,length:4,customValues:yTicks,lineStyle:{color:INK}},axisLabel:{show:false}});
  const xi=xAxis.length-2, yi=yAxis.length-2;
  series.push({type:'scatter',xAxisIndex:xi,yAxisIndex:yi,data:pairs(pts),symbolSize:6,silent:true,
   itemStyle:{color:'rgba(65,65,65,0.52)',borderColor:'rgba(65,65,65,0.2)',borderWidth:.6,opacity:1}});
  series.push({type:'line',xAxisIndex:xi,yAxisIndex:yi,data:[[ln[0],ln[1]],[ln[2],ln[3]]],showSymbol:false,silent:true,z:3,
   lineStyle:{color:'#555',width:1.1}});
  let t='{a|ρ = '+ann[0]+'}\n{a|P}{s|ρ}{a| = }'+fmtVal(ann[1]);
  if(ann[2]) t+='\n{a|P}{s|LNR}{a| = }'+fmtVal(ann[2]);
  titles.push({text:t,left:x0+4,top:r.top+dy-5.5,padding:0,textStyle:{rich,fontFamily:annFont,fontSize:10.8,fontWeight:'normal',color:'#333',lineHeight:11}});
 });
});
titles.push({text:'A',left:0,top:-20,padding:0,textStyle:{fontFamily:'"Liberation Sans"',fontWeight:'bold',fontSize:30,color:'#111'}});
const chart=echarts.init(document.getElementById('c'),null,{renderer:'canvas'});
chart.setOption({animation:false,backgroundColor:'#fff',title:titles,grid,xAxis,yAxis,series});
</script></body></html>
